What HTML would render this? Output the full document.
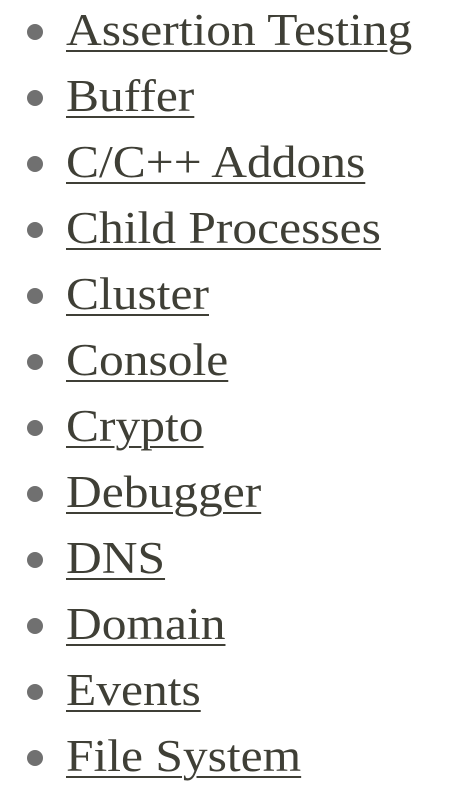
<!DOCTYPE html>
<html><head><meta charset="utf-8"><style>
html,body{margin:0;padding:0;background:#fff;width:460px;height:794px;overflow:hidden}
ul{list-style:none;margin:0;padding:0;position:absolute;top:-3px;left:0}
li{position:relative;height:66px;line-height:66px;font-family:"Liberation Serif",serif;font-size:45px;padding-left:66px;white-space:nowrap}
li::before{content:"";position:absolute;left:27px;top:27px;width:16px;height:16px;border-radius:50%;background:#707070}
a{display:inline-block;transform:scaleX(1.1);transform-origin:0 50%;color:#3f3f36;text-decoration:underline;text-decoration-thickness:2px;text-underline-offset:5px}
</style></head><body>
<ul>
<li><a href="#">Assertion Testing</a></li>
<li><a href="#">Buffer</a></li>
<li><a href="#">C/C++ Addons</a></li>
<li><a href="#">Child Processes</a></li>
<li><a href="#">Cluster</a></li>
<li><a href="#">Console</a></li>
<li><a href="#">Crypto</a></li>
<li><a href="#">Debugger</a></li>
<li><a href="#">DNS</a></li>
<li><a href="#">Domain</a></li>
<li><a href="#">Events</a></li>
<li><a href="#">File System</a></li>
</ul>
</body></html>
